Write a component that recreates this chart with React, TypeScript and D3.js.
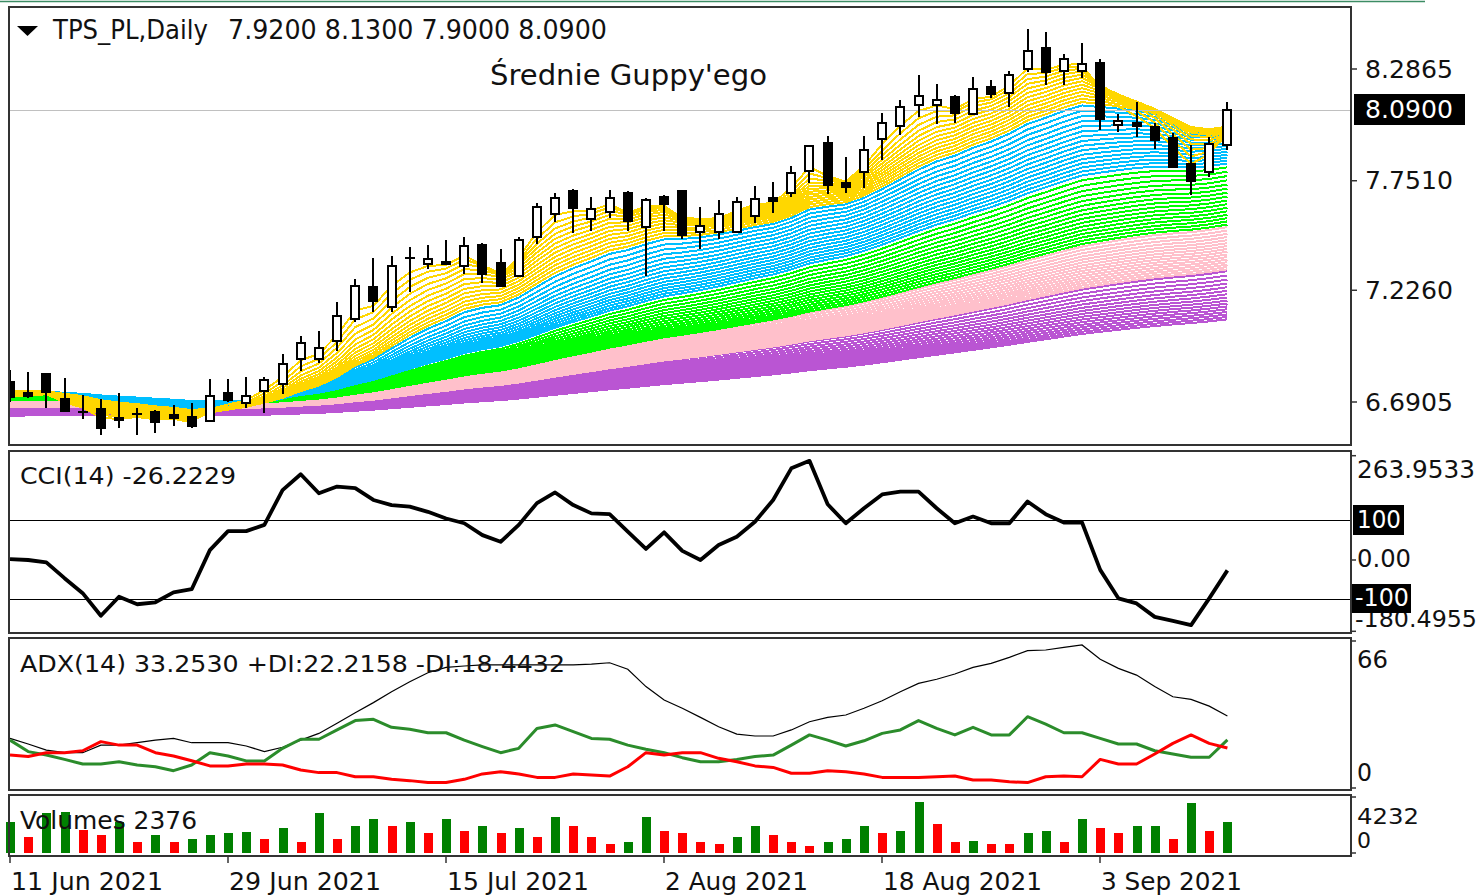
import React from 'react';
import * as d3 from 'd3';

// ---- Data (68 daily bars, 11 Jun – 14 Sep 2021) ----
const opens = [6.786,6.733,6.823,6.704,6.644,6.657,6.613,6.633,6.642,6.628,6.618,6.599,6.735,6.687,6.743,6.776,6.898,6.895,6.984,7.088,7.243,7.144,7.383,7.352,7.363,7.342,7.443,7.355,7.296,7.483,7.591,7.703,7.567,7.602,7.694,7.528,7.671,7.703,7.507,7.504,7.507,7.582,7.667,7.694,7.799,7.933,7.739,7.794,7.949,8.013,8.114,8.114,8.151,8.071,8.202,8.170,8.285,8.389,8.278,8.278,8.314,8.018,8.029,8.007,7.954,7.831,7.794,7.92];
const highs = [6.843,6.834,6.828,6.805,6.724,6.704,6.734,6.662,6.652,6.676,6.685,6.800,6.800,6.811,6.811,6.920,7.007,7.030,7.171,7.278,7.379,7.390,7.432,7.443,7.467,7.480,7.454,7.422,7.480,7.643,7.694,7.710,7.671,7.707,7.700,7.670,7.682,7.708,7.626,7.658,7.671,7.726,7.746,7.821,7.920,7.965,7.866,7.965,8.074,8.138,8.258,8.215,8.162,8.247,8.234,8.278,8.477,8.465,8.358,8.413,8.333,8.069,8.130,8.026,7.981,7.922,7.962,8.13];
const lows = [6.690,6.709,6.660,6.642,6.609,6.532,6.565,6.532,6.541,6.575,6.565,6.599,6.692,6.660,6.640,6.728,6.840,6.878,6.936,7.075,7.123,7.123,7.219,7.326,7.347,7.304,7.259,7.243,7.296,7.448,7.554,7.499,7.510,7.574,7.510,7.296,7.510,7.470,7.422,7.470,7.507,7.547,7.598,7.674,7.741,7.687,7.693,7.715,7.850,7.970,8.055,8.023,8.026,8.071,8.146,8.103,8.274,8.210,8.210,8.242,7.994,7.986,7.962,7.902,7.818,7.682,7.770,7.90];
const closes = [6.714,6.719,6.738,6.647,6.641,6.565,6.604,6.628,6.597,6.613,6.575,6.720,6.700,6.720,6.796,6.872,6.972,6.950,7.102,7.246,7.174,7.342,7.376,7.374,7.352,7.438,7.304,7.248,7.467,7.626,7.670,7.622,7.614,7.667,7.558,7.658,7.638,7.491,7.535,7.591,7.647,7.663,7.655,7.786,7.919,7.730,7.720,7.898,8.029,8.103,8.157,8.138,8.077,8.189,8.167,8.258,8.374,8.274,8.333,8.310,8.047,8.037,8.013,7.946,7.818,7.751,7.927,8.09];
const volumes = [2366,1187,3047,3100,1739,1361,2366,854,1361,854,1036,1361,1535,1560,1036,1867,854,3047,1036,2041,2548,2041,2366,1535,2548,1686,2041,1535,1867,1187,2699,2041,1187,680,854,2699,1686,1535,854,680,1187,2041,1361,854,529,854,1036,2041,1535,1686,3878,2192,854,900,680,660,1535,1686,854,2548,1867,1535,2041,2060,1036,3757,1686,2376];
const cci = [2,0,-6,-46,-84,-141,-93,-112,-107,-82,-74,25,73,73,89,177,217,169,186,182,152,139,135,122,105,93,63,46,89,144,171,139,118,116,72,28,70,23,0,38,59,97,152,232,251,141,93,131,166,173,173,131,93,110,93,93,148,116,95,95,-25,-97,-110,-144,-154,-165,-97,-26.2229];
const adx = [22.9,20.3,17.5,16.3,16.3,19.8,19.8,20.9,22.1,22.9,20.9,20.9,20.9,19.4,16.8,18.8,22.1,25.2,29.9,34.7,39.4,44.4,49,53.2,55.7,56.3,56.8,56.8,56.8,56.8,56.8,56.8,57.2,57.8,54.8,46.8,40.6,36.8,32.6,28.3,24.9,24,24,26.8,30.6,32.6,33.7,36.8,40.3,44.4,48.3,50.2,52.6,55.7,57.5,60.3,63.4,63.7,64.9,66,59.4,55.2,52.1,46.8,42.1,40.9,37.8,33.253];
const plusDI = [22.1,16.8,15.2,13.2,11.1,11.1,12.1,10.6,9.8,8,10.6,16.3,14.8,12.5,12.5,18.3,22.5,22.5,26.8,31.1,31.7,28,27.1,25.5,25.5,22.1,19.1,16.3,18.3,27.5,29.1,26,22.9,22.5,19.8,17.9,16.3,14,12.1,12.1,13.2,14.5,15.2,19.8,24.5,22.1,19.4,21.8,25.2,26.8,31.1,27.5,24.5,28,24.5,24.5,32.9,29.5,25.5,25.5,22.9,20.3,20.3,17.2,15.7,14.2,14.2,22.2158];
const minusDI = [15.2,14.5,16.3,16.3,17.2,21.4,19.8,19.8,16.3,14.8,12.6,10.2,10.2,11.1,11.1,10.6,8.3,7.1,7.1,5.2,5.2,4,3.4,2.5,2.5,4,6.5,7.5,6.5,4.9,4.9,6.5,6,5.5,9.8,16.3,15.2,16.3,16.3,13.7,12.1,10.2,9.5,6.8,6.8,8,7.5,6.5,4.9,4.9,4.9,5.2,5.5,3.7,3.7,2.9,2.5,5.2,5.5,5.2,13.2,11.1,11.1,15.7,20.6,24.5,20.6,18.4432];

const priceTicks = [8.2865, 7.751, 7.226, 6.6905];
const cciScaleLabels = ['263.9533', '0.00', '-180.4955'];
const dateLabels = ['11 Jun 2021', '29 Jun 2021', '15 Jul 2021', '2 Aug 2021', '18 Aug 2021', '3 Sep 2021'];
const dateLabelBars = [0, 12, 24, 36, 48, 60];

// Guppy multiple moving averages: colour groups, EMA periods, value at first bar
const gmmaColors = ['#FFD700', '#00BFFF', '#00FF00', '#FFC0CB', '#BA55D3'];
const gmmaPeriodFrom = [3, 16, 42, 80, 123];
const gmmaPeriodTo = [15, 40, 78, 120, 205];
const gmmaPeriodStep = [1, 1.6, 2.4, 2.7, 5.5];
const gmmaSeedFirst = [6.72, 6.745, 6.725, 6.7, 6.665];
const gmmaSeedLast = [6.745, 6.74, 6.7, 6.665, 6.625];

function ema(values: number[], period: number, seed: number): number[] {
  const a = 2 / (period + 1);
  const out: number[] = [];
  let e = seed;
  values.forEach((v, i) => {
    if (i > 0) e = e + a * (v - e);
    out.push(e);
  });
  return out;
}

const FONT = "'DejaVu Sans', Verdana, sans-serif";

function Txt(p: { x: number; y: number; s: string; len?: number; size?: number; fill?: string }) {
  return (
    <text x={p.x} y={p.y} fontSize={p.size ?? 25} fill={p.fill ?? '#111'} dominantBaseline="central"
      textLength={p.len} lengthAdjust={p.len ? 'spacingAndGlyphs' : undefined}>{p.s}</text>
  );
}

export default function App() {
  const n = closes.length;
  const L = 9, R = 1351;
  const main = { t: 7, b: 445 };
  const cciP = { t: 451, b: 633 };
  const adxP = { t: 638, b: 790 };
  const volP = { t: 795, b: 856 };

  const x = d3.scaleLinear().domain([0, n - 1]).range([10, 1227.4]);
  const yP = d3.scaleLinear().domain([priceTicks[3], priceTicks[0]]).range([402, 69]);
  const yC = d3.scaleLinear().domain([-100, 100]).range([599.5, 520.5]);
  const yA = d3.scaleLinear().domain([0, 66]).range([788, 645]);
  const yV = d3.scaleLinear().domain([0, 4232]).range([853, 797]);

  const groups = gmmaColors.map((color, g) => {
    const periods = d3.range(gmmaPeriodFrom[g], gmmaPeriodTo[g] + gmmaPeriodStep[g] / 2, gmmaPeriodStep[g]);
    const seedScale = d3.scaleLinear().domain([0, Math.max(1, periods.length - 1)]).range([gmmaSeedFirst[g], gmmaSeedLast[g]]);
    return { color, lines: periods.map((p, k) => ema(closes, p, seedScale(k))) };
  });

  const lineP = d3.line<number>().x((_, i) => x(i)).y(d => yP(d));
  const lineC = d3.line<number>().x((_, i) => x(i)).y(d => yC(d));
  const lineA = d3.line<number>().x((_, i) => x(i)).y(d => yA(d));

  const last = n - 1;
  const f4 = (v: number) => v.toFixed(4);
  const dateLens = [152, 152, 142, 143, 159, 141];

  return (
    <div style={{ position: 'fixed', left: 0, top: 0 }}>
      <svg width={1483} height={896} style={{ display: 'block', background: '#fff' }} fontFamily={FONT}>
        <defs>
          <clipPath id="clipMain"><rect x={L + 1} y={main.t + 1} width={R - L - 2} height={main.b - main.t - 2} /></clipPath>
          <clipPath id="clipCci"><rect x={L + 1} y={cciP.t + 1} width={R - L - 2} height={cciP.b - cciP.t - 2} /></clipPath>
        </defs>
        <rect x={0} y={0} width={1483} height={896} fill="#fff" />
        <line x1={0} x2={1425} y1={1.5} y2={1.5} stroke="#3C8C64" strokeWidth={1.5} />

        {/* ---------- main price panel ---------- */}
        <g clipPath="url(#clipMain)">
          {groups.slice().reverse().map((g, gi) => (
            <g key={gi} fill="none" stroke={g.color} strokeWidth={2} shapeRendering="crispEdges">
              {g.lines.slice().reverse().map((ln, k) => <path key={k} d={lineP(ln) || ''} />)}
            </g>
          ))}
          <line x1={L} x2={R} y1={Math.round(yP(closes[last])) + 0.5} y2={Math.round(yP(closes[last])) + 0.5} stroke="#C0C0C0" strokeWidth={1} />
          {closes.map((c, i) => {
            const o = opens[i];
            const cx = Math.round(x(i));
            const yT = Math.round(yP(Math.max(o, c)));
            const yB = Math.round(yP(Math.min(o, c)));
            const h = yB - yT;
            return (
              <g key={i} shapeRendering="crispEdges">
                <line x1={cx} x2={cx} y1={yP(highs[i])} y2={yP(lows[i])} stroke="#000" strokeWidth={2} />
                {h < 2 ? (
                  <rect x={cx - 5} y={yT - 1} width={10} height={2} fill="#000" />
                ) : c >= o ? (
                  <rect x={cx - 4} y={yT} width={8} height={h} fill="#fff" stroke="#000" strokeWidth={2} />
                ) : (
                  <rect x={cx - 5} y={yT - 1} width={10} height={h + 2} fill="#000" />
                )}
              </g>
            );
          })}
        </g>
        <rect x={L} y={main.t} width={R - L} height={main.b - main.t} fill="none" stroke="#333" strokeWidth={2} />
        <path d="M17,26 L38,26 L27.5,36 Z" fill="#000" />
        <Txt x={53} y={30} s="TPS_PL,Daily" len={155} size={26} />
        <Txt x={228} y={30} s={`${f4(opens[last])} ${f4(highs[last])} ${f4(lows[last])} ${f4(closes[last])}`} len={379} size={26} />
        <Txt x={490} y={75} s="Średnie Guppy'ego" len={277} size={29} />
        {priceTicks.map((p, k) => (
          <g key={k}>
            <line x1={R} x2={R + 6} y1={yP(p)} y2={yP(p)} stroke="#333" strokeWidth={1.5} />
            <Txt x={1365} y={yP(p)} s={p.toFixed(4)} len={88} />
          </g>
        ))}
        <rect x={1354} y={yP(closes[last]) - 16} width={111} height={31} fill="#000" />
        <Txt x={1365} y={yP(closes[last])} s={f4(closes[last])} len={88} fill="#fff" />

        {/* ---------- CCI panel ---------- */}
        <line x1={L} x2={R} y1={yC(100)} y2={yC(100)} stroke="#000" strokeWidth={1.2} />
        <line x1={L} x2={R} y1={yC(-100)} y2={yC(-100)} stroke="#000" strokeWidth={1.2} />
        <g clipPath="url(#clipCci)">
          <path d={lineC(cci) || ''} fill="none" stroke="#000" strokeWidth={3.8} strokeLinejoin="round" />
        </g>
        <rect x={L} y={cciP.t} width={R - L} height={cciP.b - cciP.t} fill="none" stroke="#333" strokeWidth={2} />
        <Txt x={20} y={476} s={`CCI(14) ${cci[last].toFixed(4)}`} len={216} size={23} />
        <Txt x={1357} y={470} s={cciScaleLabels[0]} len={118} size={24} />
        <Txt x={1357} y={559} s={cciScaleLabels[1]} len={54} size={24} />
        <Txt x={1355} y={619} s={cciScaleLabels[2]} len={122} size={23} />
        <rect x={1353} y={505} width={51} height={30} fill="#000" />
        <Txt x={1357} y={520} s="100" len={44} size={24} fill="#fff" />
        <rect x={1352} y={584} width={59} height={29} fill="#000" />
        <Txt x={1355} y={598} s="-100" len={54} size={24} fill="#fff" />
        {[455.7, yC(0), 631.3].map((yy, k) => (
          <line key={k} x1={R} x2={R + 5} y1={yy} y2={yy} stroke="#333" strokeWidth={1.5} />
        ))}

        {/* ---------- ADX panel ---------- */}
        <path d={lineA(adx) || ''} fill="none" stroke="#000" strokeWidth={1.2} />
        <path d={lineA(plusDI) || ''} fill="none" stroke="#2B8C2B" strokeWidth={3} strokeLinejoin="round" />
        <path d={lineA(minusDI) || ''} fill="none" stroke="#FF0000" strokeWidth={3} strokeLinejoin="round" />
        <rect x={L} y={adxP.t} width={R - L} height={adxP.b - adxP.t} fill="none" stroke="#333" strokeWidth={2} />
        <Txt x={20} y={664} s={`ADX(14) ${adx[last].toFixed(4)} +DI:${plusDI[last].toFixed(4)} -DI:${minusDI[last].toFixed(4)}`} len={545} size={23} />
        <Txt x={1357} y={660} s="66" len={31} size={24} />
        <Txt x={1357} y={773} s="0" len={15} size={24} />
        {[641, 788].map((yy, k) => (
          <line key={k} x1={R} x2={R + 5} y1={yy} y2={yy} stroke="#333" strokeWidth={1.5} />
        ))}

        {/* ---------- Volumes panel ---------- */}
        {volumes.map((v, i) => (
          <rect key={i} x={Math.round(x(i)) - 4.5} y={yV(v)} width={9} height={yV(0) - yV(v)}
            fill={i === 0 || v > volumes[i - 1] ? '#008000' : '#FF0000'} shapeRendering="crispEdges" />
        ))}
        <rect x={L} y={volP.t} width={R - L} height={volP.b - volP.t} fill="none" stroke="#333" strokeWidth={2} />
        <Txt x={20} y={821} s={`Volumes ${volumes[last]}`} len={177} size={24} />
        <Txt x={1357} y={816} s="4232" len={62} size={22} />
        <Txt x={1357} y={840} s="0" len={14} size={22} />
        {[797, 853].map((yy, k) => (
          <line key={k} x1={R} x2={R + 5} y1={yy} y2={yy} stroke="#333" strokeWidth={1.5} />
        ))}

        {/* ---------- date axis ---------- */}
        {dateLabels.map((s, k) => {
          const xx = Math.round(x(dateLabelBars[k]));
          return (
            <g key={k}>
              <line x1={xx} x2={xx} y1={volP.b} y2={volP.b + 7} stroke="#333" strokeWidth={1.5} />
              <Txt x={xx + 1} y={881} s={s} len={dateLens[k]} size={24.5} />
            </g>
          );
        })}
      </svg>
    </div>
  );
}
